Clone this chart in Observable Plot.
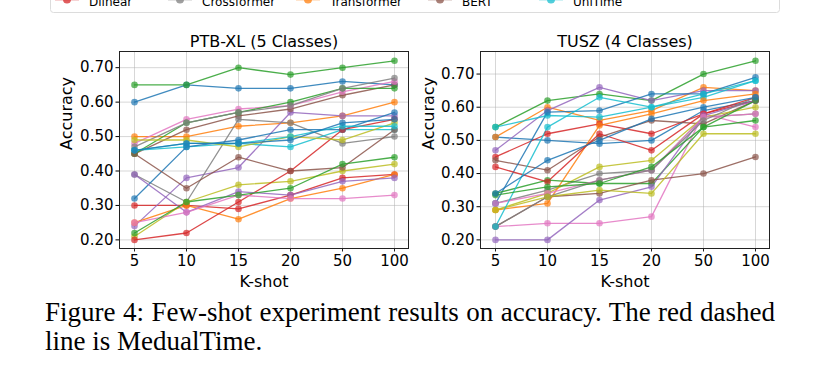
<!DOCTYPE html>
<html>
<head>
<meta charset="utf-8">
<script src="https://cdn.jsdelivr.net/npm/d3@7"></script>
<script src="https://cdn.jsdelivr.net/npm/@observablehq/plot@0.6"></script>
<style>
  html, body { margin: 0; padding: 0; background: #fff; }
  body { width: 826px; height: 386px; position: relative; overflow: hidden; font-family: "DejaVu Sans", sans-serif; }
  #legend { position: absolute; left: 0; top: 0; }
  #left { position: absolute; left: 0; top: 0; }
  #right { position: absolute; left: 420px; top: 0; }
  #caption { position: absolute; left: 45px; top: 298px; width: 730px; font-family: "Liberation Serif", "Times New Roman", serif; font-size: 27px; line-height: 29px; text-align: justify; color: #000; }
</style>
</head>
<body>
<svg id="legend" width="826" height="16"></svg>
<div id="left"></div>
<div id="right"></div>
<div id="caption">Figure 4: Few-shot experiment results on accuracy. The red dashed line is MedualTime.</div>
<script>
// ---- data ----
const kshots = ["5", "10", "15", "20", "50", "100"];
const models = ["Autoformer", "Informer", "FEDformer", "Dlinear", "PatchTST", "TimesNet", "iTransformer", "Crossformer",
  "Medformer", "TCN", "GPT4TS", "Transformer", "Time-LLM", "Reformer", "ClinicalBERT", "BERT", "GPT2", "Llama",
  "TEST", "UniTime", "Qwen", "Mamba"];
const palette = ["#1f77b4", "#ff7f0e", "#2ca02c", "#d62728", "#9467bd", "#8c564b", "#e377c2", "#7f7f7f", "#bcbd22", "#17becf",
  "#1f77b4", "#ff7f0e", "#2ca02c", "#d62728", "#9467bd", "#8c564b", "#e377c2", "#7f7f7f", "#bcbd22", "#17becf",
  "#2ca02c", "#1f77b4"];
const yTicks = [0.2, 0.3, 0.4, 0.5, 0.6, 0.7];

const ptbxl = [
  [0.60, 0.65, 0.64, 0.64, 0.66, 0.65],
  [0.50, 0.50, 0.53, 0.54, 0.56, 0.60],
  [0.65, 0.65, 0.70, 0.68, 0.70, 0.72],
  [0.30, 0.30, 0.29, 0.33, 0.38, 0.39],
  [0.24, 0.38, 0.41, 0.57, 0.56, 0.56],
  [0.45, 0.52, 0.56, 0.58, 0.62, 0.65],
  [0.48, 0.55, 0.58, 0.59, 0.63, 0.66],
  [0.39, 0.31, 0.55, 0.54, 0.48, 0.50],
  [0.21, 0.31, 0.36, 0.37, 0.40, 0.42],
  [0.46, 0.47, 0.48, 0.47, 0.52, 0.52],
  [0.32, 0.47, 0.49, 0.52, 0.52, 0.57],
  [0.25, 0.30, 0.26, 0.32, 0.35, 0.39],
  [0.45, 0.54, 0.57, 0.60, 0.64, 0.64],
  [0.20, 0.22, 0.31, 0.40, 0.52, 0.55],
  [0.39, 0.28, 0.34, 0.33, 0.37, 0.38],
  [0.45, 0.35, 0.44, 0.40, 0.41, 0.52],
  [0.25, 0.28, 0.33, 0.32, 0.32, 0.33],
  [0.47, 0.54, 0.57, 0.59, 0.64, 0.67],
  [0.49, 0.49, 0.47, 0.50, 0.49, 0.54],
  [0.46, 0.48, 0.48, 0.50, 0.53, 0.53],
  [0.22, 0.31, 0.33, 0.35, 0.42, 0.44],
  [0.46, 0.48, 0.48, 0.49, 0.54, 0.55]
];

const tusz = [
  [0.51, 0.50, 0.49, 0.50, 0.59, 0.62],
  [0.51, 0.60, 0.56, 0.59, 0.66, 0.65],
  [0.54, 0.62, 0.64, 0.62, 0.70, 0.74],
  [0.45, 0.52, 0.55, 0.52, 0.58, 0.63],
  [0.47, 0.59, 0.66, 0.62, 0.65, 0.65],
  [0.44, 0.41, 0.51, 0.56, 0.55, 0.62],
  [0.24, 0.25, 0.25, 0.27, 0.58, 0.54],
  [0.31, 0.35, 0.40, 0.41, 0.57, 0.58],
  [0.29, 0.34, 0.42, 0.44, 0.57, 0.60],
  [0.54, 0.575, 0.57, 0.60, 0.63, 0.68],
  [0.31, 0.585, 0.59, 0.64, 0.64, 0.69],
  [0.29, 0.31, 0.545, 0.58, 0.62, 0.64],
  [0.34, 0.38, 0.37, 0.37, 0.54, 0.56],
  [0.42, 0.375, 0.52, 0.47, 0.58, 0.62],
  [0.20, 0.20, 0.32, 0.36, 0.575, 0.62],
  [0.24, 0.33, 0.34, 0.38, 0.40, 0.45],
  [0.31, 0.34, 0.38, 0.41, 0.57, 0.58],
  [0.24, 0.33, 0.38, 0.41, 0.56, 0.63],
  [0.29, 0.33, 0.35, 0.34, 0.52, 0.52],
  [0.24, 0.54, 0.63, 0.60, 0.64, 0.68],
  [0.335, 0.36, 0.37, 0.42, 0.54, 0.62],
  [0.34, 0.44, 0.50, 0.565, 0.60, 0.63]
];

const legendShown = ["Dlinear", "Crossformer", "Transformer", "BERT", "UniTime"];

// ---- legend (bottom row of a legend box clipped by the top edge) ----
const lg = d3.select("#legend");
lg.append("rect").attr("x", 50.5).attr("y", -40).attr("width", 729).attr("height", 52.5)
  .attr("rx", 3).attr("fill", "#fff").attr("stroke", "#dcdcdc");
const colX = [55, 168, 296, 428, 539];
legendShown.forEach((name, i) => {
  const c = palette[models.indexOf(name)];
  const g = lg.append("g").attr("transform", `translate(${colX[i]},0)`);
  g.append("line").attr("x1", 0).attr("x2", 24).attr("y1", -0.5).attr("y2", -0.5)
    .attr("stroke", c).attr("stroke-width", 1.5).attr("stroke-opacity", 0.8);
  g.append("circle").attr("cx", 12).attr("cy", -0.5).attr("r", 4).attr("fill", c).attr("fill-opacity", 0.75);
  g.append("text").attr("x", 34).attr("y", 5.5).attr("font-size", 12)
    .attr("font-family", "DejaVu Sans").attr("fill", "#000").text(name);
});

// ---- panels ----
function panel(values, title, yDomain, width, marginLeft, labelOffset) {
  const rows = [];
  models.forEach((m, i) => values[i].forEach((v, j) => rows.push({model: m, k: kshots[j], acc: v})));
  return Plot.plot({
    width, height: 300,
    marginLeft, marginRight: width - marginLeft - 289, marginTop: 51, marginBottom: 52,
    style: {background: "transparent", fontFamily: "DejaVu Sans", color: "#000"},
    x: {type: "point", domain: kshots, padding: 0.25},
    y: {domain: yDomain},
    color: {type: "ordinal", domain: models, range: palette},
    marks: [
      Plot.gridX({stroke: "#b0b0b0", strokeOpacity: 0.5, strokeWidth: 1}),
      Plot.gridY({ticks: yTicks, stroke: "#b0b0b0", strokeOpacity: 0.5, strokeWidth: 1}),
      Plot.line(rows, {x: "k", y: "acc", z: "model", stroke: "model", strokeWidth: 1.3, strokeOpacity: 0.85}),
      Plot.dot(rows, {x: "k", y: "acc", fill: "model", r: 3.3, fillOpacity: 0.7}),
      Plot.frame({stroke: "#222", strokeWidth: 1}),
      Plot.axisX({tickSize: 3.5, tickPadding: 3, fontSize: 15, label: null, stroke: "#222"}),
      Plot.axisY({ticks: yTicks, tickFormat: d3.format(".2f"), tickSize: 3.5, tickPadding: 2.5, fontSize: 15, label: null}),
      Plot.text(["Accuracy"], {frameAnchor: "left", rotate: -90, dx: -labelOffset, lineAnchor: "top", fontSize: 16, text: d => d}),
      Plot.text(["K-shot"], {frameAnchor: "bottom", dy: 38, lineAnchor: "bottom", fontSize: 16, text: d => d}),
      Plot.text([title], {frameAnchor: "top", dy: -5, lineAnchor: "bottom", fontSize: 16, text: d => d})
    ]
  });
}

document.getElementById("left").append(panel(ptbxl, "PTB-XL (5 Classes)", [0.175, 0.747], 420, 119, 59));
document.getElementById("right").append(panel(tusz, "TUSZ (4 Classes)", [0.174, 0.768], 406, 60, 58));
</script>
</body>
</html>
